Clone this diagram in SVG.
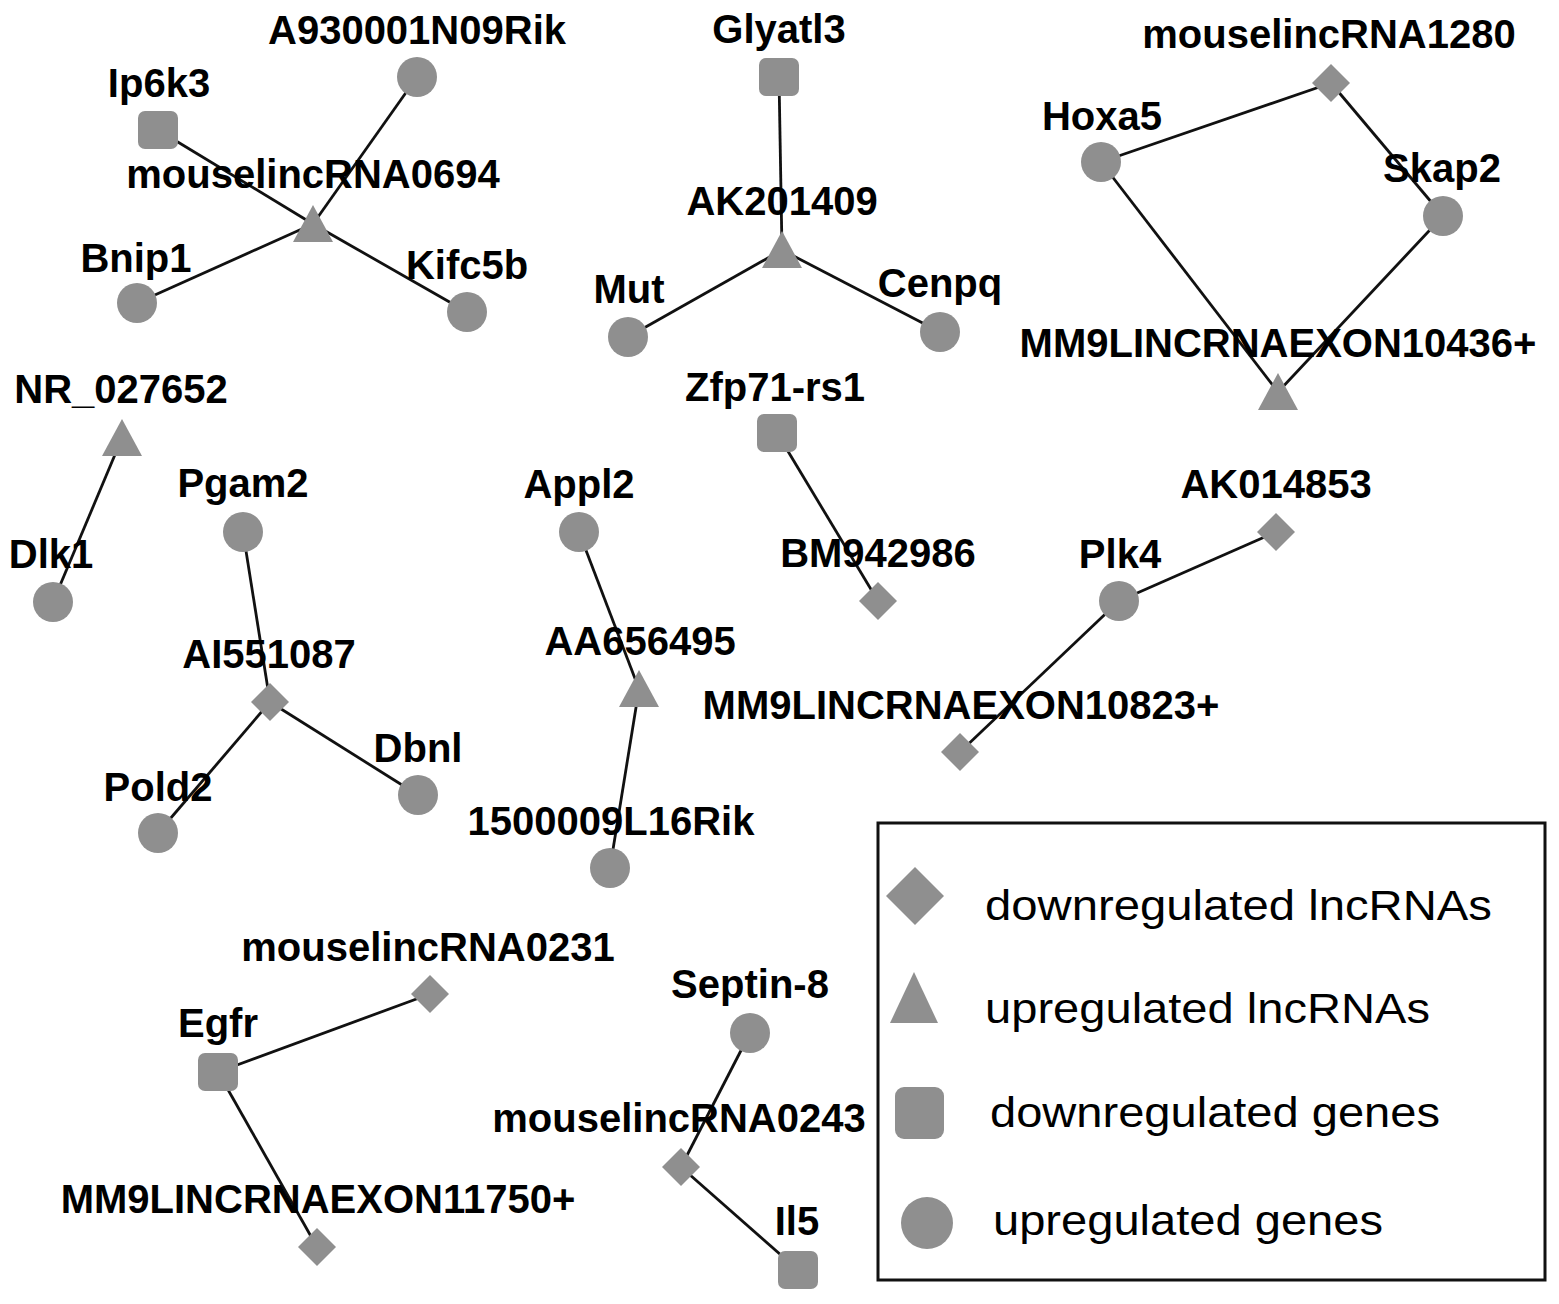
<svg xmlns="http://www.w3.org/2000/svg" width="1559" height="1304" viewBox="0 0 1559 1304">
<style>
.n{fill:#8f8f8f}
.e{stroke:#111;stroke-width:2.8;fill:none}
.t{font-family:"Liberation Sans",Arial,sans-serif;font-weight:bold;font-size:40px;fill:#000;text-anchor:middle}
.lg{font-family:"Liberation Sans",Arial,sans-serif;font-size:43px;fill:#000}
</style>
<defs>
<circle id="circ" r="20" class="n"/>
<rect id="sq" x="-20" y="-19" width="40" height="38" rx="7" class="n"/>
<polygon id="tri" points="0,-19 20,18 -20,18" class="n"/>
<polygon id="dia" points="0,-19 19,0 0,19 -19,0" class="n"/>
</defs>
<rect width="1559" height="1304" fill="#fff"/>
<g id="connectors">
<line class="e" x1="158" y1="130" x2="313" y2="224"/>
<line class="e" x1="417" y1="77" x2="313" y2="224"/>
<line class="e" x1="137" y1="303" x2="313" y2="224"/>
<line class="e" x1="467" y1="312" x2="313" y2="224"/>
<line class="e" x1="779" y1="77" x2="782" y2="250"/>
<line class="e" x1="628" y1="337" x2="782" y2="250"/>
<line class="e" x1="940" y1="332" x2="782" y2="250"/>
<line class="e" x1="1331" y1="83" x2="1101" y2="162"/>
<line class="e" x1="1331" y1="83" x2="1443" y2="216"/>
<line class="e" x1="1101" y1="162" x2="1278" y2="392"/>
<line class="e" x1="1443" y1="216" x2="1278" y2="392"/>
<line class="e" x1="122" y1="438" x2="53" y2="602"/>
<line class="e" x1="243" y1="532" x2="270" y2="702"/>
<line class="e" x1="270" y1="702" x2="158" y2="833"/>
<line class="e" x1="270" y1="702" x2="418" y2="795"/>
<line class="e" x1="579" y1="532" x2="639" y2="689"/>
<line class="e" x1="639" y1="689" x2="610" y2="868"/>
<line class="e" x1="777" y1="433" x2="878" y2="601"/>
<line class="e" x1="1276" y1="532" x2="1119" y2="601"/>
<line class="e" x1="1119" y1="601" x2="960" y2="752"/>
<line class="e" x1="218" y1="1072" x2="430" y2="994"/>
<line class="e" x1="218" y1="1072" x2="317" y2="1247"/>
<line class="e" x1="750" y1="1033" x2="681" y2="1167"/>
<line class="e" x1="681" y1="1167" x2="798" y2="1270"/>
</g>
<g id="n-Ip6k3"><use href="#sq" x="158" y="130"/><text class="t" x="159" y="97">Ip6k3</text></g>
<g id="n-A930001N09Rik"><use href="#circ" x="417" y="77"/><text class="t" x="417" y="44">A930001N09Rik</text></g>
<g id="n-mouselincRNA0694"><use href="#tri" x="313" y="224"/><text class="t" x="313" y="188">mouselincRNA0694</text></g>
<g id="n-Bnip1"><use href="#circ" x="137" y="303"/><text class="t" x="136" y="272">Bnip1</text></g>
<g id="n-Kifc5b"><use href="#circ" x="467" y="312"/><text class="t" x="467" y="279">Kifc5b</text></g>
<g id="n-Glyatl3"><use href="#sq" x="779" y="77"/><text class="t" x="779" y="43">Glyatl3</text></g>
<g id="n-AK201409"><use href="#tri" x="782" y="250"/><text class="t" x="782" y="215">AK201409</text></g>
<g id="n-Mut"><use href="#circ" x="628" y="337"/><text class="t" x="629" y="303">Mut</text></g>
<g id="n-Cenpq"><use href="#circ" x="940" y="332"/><text class="t" x="940" y="297">Cenpq</text></g>
<g id="n-mouselincRNA1280"><use href="#dia" x="1331" y="83"/><text class="t" x="1329" y="48">mouselincRNA1280</text></g>
<g id="n-Hoxa5"><use href="#circ" x="1101" y="162"/><text class="t" x="1102" y="130">Hoxa5</text></g>
<g id="n-Skap2"><use href="#circ" x="1443" y="216"/><text class="t" x="1442" y="182">Skap2</text></g>
<g id="n-MM9LINCRNAEXON10436"><use href="#tri" x="1278" y="392"/><text class="t" x="1278" y="357">MM9LINCRNAEXON10436+</text></g>
<g id="n-NR_027652"><use href="#tri" x="122" y="438"/><text class="t" x="121" y="403">NR_027652</text></g>
<g id="n-Dlk1"><use href="#circ" x="53" y="602"/><text class="t" x="51" y="568">Dlk1</text></g>
<g id="n-Pgam2"><use href="#circ" x="243" y="532"/><text class="t" x="243" y="497">Pgam2</text></g>
<g id="n-AI551087"><use href="#dia" x="270" y="702"/><text class="t" x="269" y="668">AI551087</text></g>
<g id="n-Pold2"><use href="#circ" x="158" y="833"/><text class="t" x="158" y="801">Pold2</text></g>
<g id="n-Dbnl"><use href="#circ" x="418" y="795"/><text class="t" x="418" y="762">Dbnl</text></g>
<g id="n-Appl2"><use href="#circ" x="579" y="532"/><text class="t" x="579" y="498">Appl2</text></g>
<g id="n-AA656495"><use href="#tri" x="639" y="689"/><text class="t" x="640" y="655">AA656495</text></g>
<g id="n-1500009L16Rik"><use href="#circ" x="610" y="868"/><text class="t" x="611" y="835">1500009L16Rik</text></g>
<g id="n-Zfp71-rs1"><use href="#sq" x="777" y="433"/><text class="t" x="775" y="401">Zfp71-rs1</text></g>
<g id="n-BM942986"><use href="#dia" x="878" y="601"/><text class="t" x="878" y="567">BM942986</text></g>
<g id="n-AK014853"><use href="#dia" x="1276" y="532"/><text class="t" x="1276" y="498">AK014853</text></g>
<g id="n-Plk4"><use href="#circ" x="1119" y="601"/><text class="t" x="1120" y="568">Plk4</text></g>
<g id="n-MM9LINCRNAEXON10823"><use href="#dia" x="960" y="752"/><text class="t" x="961" y="719">MM9LINCRNAEXON10823+</text></g>
<g id="n-mouselincRNA0231"><use href="#dia" x="430" y="994"/><text class="t" x="428" y="961">mouselincRNA0231</text></g>
<g id="n-Egfr"><use href="#sq" x="218" y="1072"/><text class="t" x="218" y="1037">Egfr</text></g>
<g id="n-MM9LINCRNAEXON11750"><use href="#dia" x="317" y="1247"/><text class="t" x="318" y="1213">MM9LINCRNAEXON11750+</text></g>
<g id="n-Septin-8"><use href="#circ" x="750" y="1033"/><text class="t" x="750" y="998">Septin-8</text></g>
<g id="n-mouselincRNA0243"><use href="#dia" x="681" y="1167"/><text class="t" x="679" y="1132">mouselincRNA0243</text></g>
<g id="n-Il5"><use href="#sq" x="798" y="1270"/><text class="t" x="797" y="1235">Il5</text></g>
<g id="legend">
<rect x="878" y="823" width="667" height="457" fill="none" stroke="#111" stroke-width="3"/>
<polygon class="n" points="915,867 944,896 915,925 886,896"/>
<text class="lg" x="985" y="920" textLength="507" lengthAdjust="spacingAndGlyphs">downregulated lncRNAs</text>
<polygon class="n" points="914,972 938,1023 890,1023"/>
<text class="lg" x="985" y="1023" textLength="445" lengthAdjust="spacingAndGlyphs">upregulated lncRNAs</text>
<rect class="n" x="895" y="1087" width="49" height="52" rx="9"/>
<text class="lg" x="990" y="1127" textLength="450" lengthAdjust="spacingAndGlyphs">downregulated genes</text>
<ellipse class="n" cx="927" cy="1223" rx="26" ry="26"/>
<text class="lg" x="993" y="1235" textLength="390" lengthAdjust="spacingAndGlyphs">upregulated genes</text>
</g>
</svg>
